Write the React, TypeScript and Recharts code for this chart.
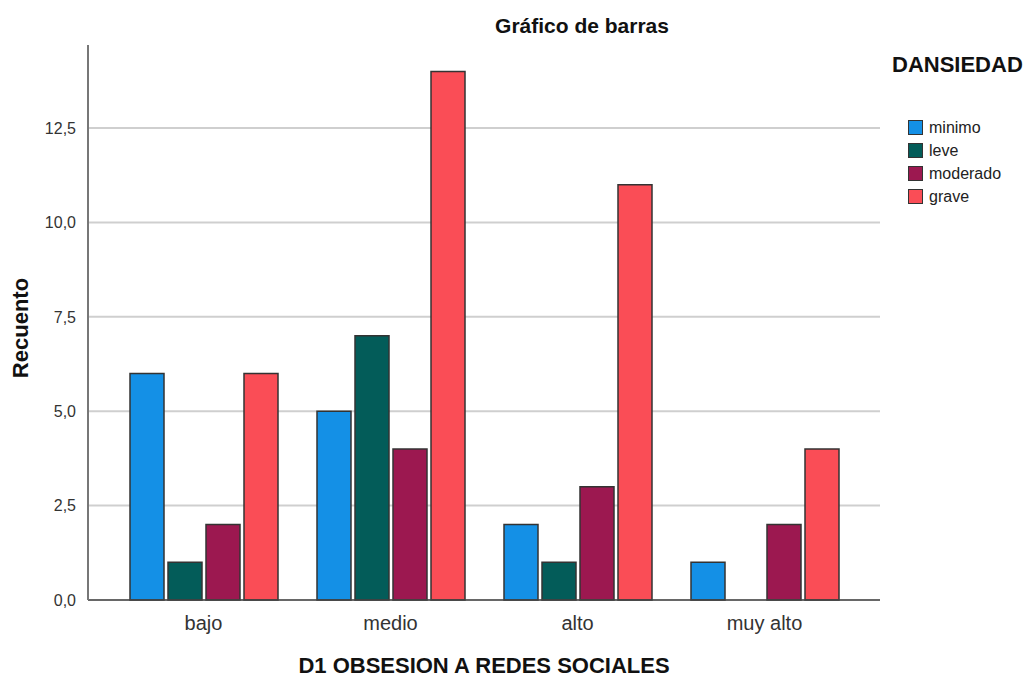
import React from "react";
import { BarChart, Bar, XAxis, YAxis, CartesianGrid } from "recharts";

const categories = ["bajo", "medio", "alto", "muy alto"];
const minimo = [6, 5, 2, 1];
const leve = [1, 7, 1, 0];
const moderado = [2, 4, 3, 2];
const grave = [6, 14, 11, 4];
const yTicks = [0, 2.5, 5, 7.5, 10, 12.5];

const series = [
  { key: "minimo", color: "#1490E6" },
  { key: "leve", color: "#035C59" },
  { key: "moderado", color: "#9C1850" },
  { key: "grave", color: "#FA4D56" },
];

const data = categories.map((c, i) => ({
  name: c,
  minimo: minimo[i],
  leve: leve[i],
  moderado: moderado[i],
  grave: grave[i],
}));

const FONT = "Arial, 'Liberation Sans', sans-serif";

const fmt = (v: number) => v.toFixed(1).replace(".", ",");

export default function App() {
  return (
    <div style={{ position: "absolute", left: 0, top: 0, width: 1028, height: 680, background: "#fff", fontFamily: FONT }}>
      <div style={{ position: "absolute", left: 432, width: 300, top: 14, textAlign: "center", fontWeight: "bold", fontSize: 21, color: "#111" }}>
        Gráfico de barras
      </div>
      <div style={{ position: "absolute", left: 21, top: 328, transform: "translate(-50%, -50%) rotate(-90deg)", fontWeight: "bold", fontSize: 22, color: "#111", whiteSpace: "nowrap" }}>
        Recuento
      </div>
      <div style={{ position: "absolute", left: 234, width: 500, top: 653, textAlign: "center", fontWeight: "bold", fontSize: 22, color: "#111" }}>
        D1 OBSESION A REDES SOCIALES
      </div>
      <div style={{ position: "absolute", left: 892, top: 52, fontFamily: FONT }}>
        <div style={{ fontWeight: "bold", fontSize: 22, color: "#111", height: 26, lineHeight: "26px" }}>DANSIEDAD</div>
        <div style={{ marginTop: 38 }}>
          {series.map((s) => (
            <div key={s.key} style={{ display: "flex", alignItems: "center", height: 23, paddingLeft: 16 }}>
              <div style={{ width: 15, height: 15, background: s.color, border: "1.5px solid #333", boxSizing: "border-box", marginRight: 6 }} />
              <span style={{ fontSize: 16, color: "#222" }}>{s.key}</span>
            </div>
          ))}
        </div>
      </div>
      <BarChart
        width={1028}
        height={680}
        data={data}
        margin={{ top: 45, right: 148, left: 20, bottom: 0 }}
        barCategoryGap={20}
        barGap={4}
      >
        <CartesianGrid vertical={false} stroke="#cfcfcf" strokeWidth={2} syncWithTicks={true} />
        <XAxis
          dataKey="name"
          height={80}
          padding={{ left: 22, right: 22 }}
          tickLine={false}
          axisLine={{ stroke: "#444", strokeWidth: 1.5 }}
          tick={{ fontSize: 20, fill: "#333", fontFamily: FONT }}
          tickMargin={10}
        />
        <YAxis
          width={68}
          domain={[0, 14.7]}
          ticks={yTicks}
          tickFormatter={fmt}
          tickLine={false}
          axisLine={{ stroke: "#777", strokeWidth: 2 }}
          tick={{ fontSize: 16, fill: "#333", fontFamily: FONT }}
          tickMargin={6}
        />
        {series.map((s) => (
          <Bar key={s.key} dataKey={s.key} fill={s.color} stroke="#333" strokeWidth={1.5} isAnimationActive={false} />
        ))}
      </BarChart>
    </div>
  );
}
